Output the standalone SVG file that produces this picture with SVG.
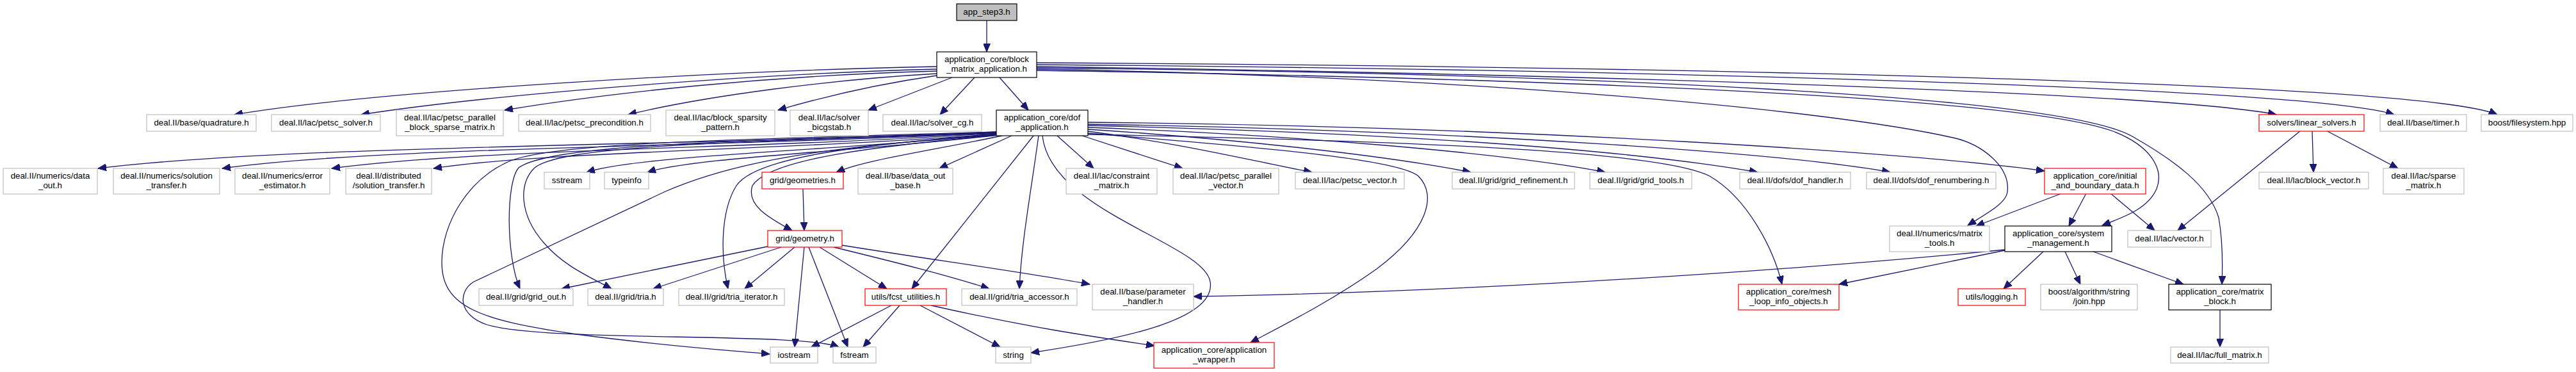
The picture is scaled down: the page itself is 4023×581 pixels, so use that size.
<svg xmlns="http://www.w3.org/2000/svg" width="4023" height="581" viewBox="0 0 4023 581">
<style>
.n rect{fill:#fff;stroke:#bfbfbf;stroke-width:1.2}
.n.red rect{stroke:#ff0000}
.n.blk rect{stroke:#000}
.n.root rect{fill:#bfbfbf;stroke:#000}
.n text{font-family:"Liberation Sans",Arial,sans-serif;font-size:13.33px;fill:#000;text-anchor:middle}
#edges path{fill:none;stroke:#191970;stroke-width:1.3;marker-end:url(#ah)}
</style>
<defs>
<marker id="ah" markerUnits="userSpaceOnUse" markerWidth="14" markerHeight="11" refX="13" refY="5.5" orient="auto">
<path d="M0,0 L13,5.5 L0,11 z" fill="#191970" stroke="#191970" stroke-width="1"/>
</marker>
</defs>
<rect width="4023" height="581" fill="#fff"/>
<g id="edges">
<path d="M1541,32 L1541,81"/>
<path d="M1463,104 C1150,110 600,140 366,179"/>
<path d="M1463,108 C1150,116 750,150 564,179"/>
<path d="M1463,111 C1200,118 950,145 788,172"/>
<path d="M1463,115 C1300,124 1100,150 981,179"/>
<path d="M1463,118 C1380,130 1290,150 1215,172"/>
<path d="M1487,121 L1356,172"/>
<path d="M1522,121 L1468,179"/>
<path d="M1561,121 L1606,172"/>
<path d="M1619,104 C2600,118 3400,148 3555,179"/>
<path d="M1619,101 C2500,108 3600,135 3739,179"/>
<path d="M1619,98 C2600,104 3780,128 3900,179"/>
<path d="M1619,108 C2300,120 2850,170 3050,215 C3095,225 3140,260 3135,300 C3133,318 3100,335 3073,352"/>
<path d="M1619,110 C2400,122 3150,150 3300,205 C3360,228 3380,265 3368,295 C3355,325 3320,338 3283,352"/>
<path d="M1619,106 C2500,115 3220,150 3330,213 C3395,250 3450,290 3465,340 C3472,380 3471,420 3470,444"/>
<path d="M1556,206 C1100,228 450,226 153,263"/>
<path d="M1556,207 C1150,230 600,228 347,263"/>
<path d="M1556,208 C1200,232 750,232 518,263"/>
<path d="M1556,209 C1250,234 850,236 677,263"/>
<path d="M1556,210 C1300,236 1000,242 916,269"/>
<path d="M1558,211 C1350,236 1080,246 1011,269"/>
<path d="M1565,212 C1450,236 1350,250 1306,269"/>
<path d="M1580,212 L1467,263"/>
<path d="M1651,212 L1708,263"/>
<path d="M1690,212 L1847,263"/>
<path d="M1699,205 C1850,225 1950,250 2049,269"/>
<path d="M1699,202 C1900,215 2150,240 2297,269"/>
<path d="M1699,199 C2000,210 2350,238 2507,269"/>
<path d="M1699,196 C2200,208 2550,235 2745,269"/>
<path d="M1699,194 C2300,204 2800,240 2952,269"/>
<path d="M1699,191 C2400,198 3000,240 3193,267"/>
<path d="M1699,208 C1900,225 2180,245 2215,275 C2245,305 2230,360 2150,420 C2080,470 2000,510 1953,535"/>
<path d="M1699,210 C2300,222 2600,240 2670,275 C2730,310 2770,390 2783,444"/>
<path d="M1614,212 L1424,451"/>
<path d="M1622,212 C1610,300 1595,380 1592,451"/>
<path d="M1628,212 C1640,330 1880,380 1890,440 C1900,500 1750,530 1610,551"/>
<path d="M1556,207 C1150,220 860,225 810,262 C790,285 790,400 812,451"/>
<path d="M1556,208 C1150,222 880,226 835,262 C810,285 810,335 850,380 C880,415 920,432 955,451"/>
<path d="M1556,206 C1150,218 880,222 800,250 C730,278 690,350 690,410 C690,480 750,500 900,522 C1050,542 1150,548 1202,553"/>
<path d="M1558,211 C1300,228 1150,250 1037,300 L740,440 C715,455 715,492 760,507 C850,535 1250,518 1310,542"/>
<path d="M1556,210 C1350,225 1180,245 1150,290 C1125,330 1125,400 1137,451"/>
<path d="M1558,211 C1350,230 1200,250 1175,290 C1165,320 1200,340 1237,360"/>
<path d="M1254,295 L1256,360"/>
<path d="M1199,385 L877,451"/>
<path d="M1220,386 L1020,451"/>
<path d="M1241,386 L1163,451"/>
<path d="M1256,386 L1241,542"/>
<path d="M1263,386 L1324,542"/>
<path d="M1280,386 L1385,451"/>
<path d="M1302,386 C1400,410 1480,430 1545,451"/>
<path d="M1315,383 C1450,405 1600,425 1702,444"/>
<path d="M1392,477 L1267,542"/>
<path d="M1405,477 L1348,542"/>
<path d="M1437,477 L1562,542"/>
<path d="M1454,477 C1600,510 1700,525 1803,540"/>
<path d="M3220,302 L3086,353"/>
<path d="M3258,302 L3231,353"/>
<path d="M3296,302 L3365,360"/>
<path d="M3131,391 L2872,444"/>
<path d="M3131,390 C2700,432 2200,458 1864,463"/>
<path d="M3191,393 L3129,451"/>
<path d="M3225,393 L3249,444"/>
<path d="M3269,393 L3410,444"/>
<path d="M3593,204 L3401,360"/>
<path d="M3611,204 L3613,269"/>
<path d="M3633,204 L3745,263"/>
<path d="M3467,484 L3467,542"/>
</g>
<g id="n0" class="n root"><rect x="1494" y="6" width="94" height="26"/><text x="1541" y="23">app_step3.h</text></g>
<g id="n1" class="n blk"><rect x="1463" y="81" width="156" height="40"/><text x="1541" y="97">application_core/block</text><text x="1541" y="112">_matrix_application.h</text></g>
<g id="n2" class="n"><rect x="229" y="179" width="171" height="26"/><text x="314.5" y="196">deal.II/base/quadrature.h</text></g>
<g id="n3" class="n"><rect x="424" y="179" width="170" height="26"/><text x="509" y="196">deal.II/lac/petsc_solver.h</text></g>
<g id="n4" class="n"><rect x="619" y="172" width="167" height="40"/><text x="702.5" y="188">deal.II/lac/petsc_parallel</text><text x="702.5" y="203">_block_sparse_matrix.h</text></g>
<g id="n5" class="n"><rect x="810" y="179" width="206" height="26"/><text x="913" y="196">deal.II/lac/petsc_precondition.h</text></g>
<g id="n6" class="n"><rect x="1040" y="172" width="170" height="40"/><text x="1125" y="188">deal.II/lac/block_sparsity</text><text x="1125" y="203">_pattern.h</text></g>
<g id="n7" class="n"><rect x="1234" y="172" width="122" height="40"/><text x="1295" y="188">deal.II/lac/solver</text><text x="1295" y="203">_bicgstab.h</text></g>
<g id="n8" class="n"><rect x="1379" y="179" width="154" height="26"/><text x="1456" y="196">deal.II/lac/solver_cg.h</text></g>
<g id="n9" class="n blk"><rect x="1556" y="172" width="143" height="40"/><text x="1627.5" y="188">application_core/dof</text><text x="1627.5" y="203">_application.h</text></g>
<g id="n10" class="n red"><rect x="3528" y="179" width="164" height="26"/><text x="3610" y="196">solvers/linear_solvers.h</text></g>
<g id="n11" class="n"><rect x="3717" y="179" width="135" height="26"/><text x="3784.5" y="196">deal.II/base/timer.h</text></g>
<g id="n12" class="n"><rect x="3875" y="179" width="143" height="26"/><text x="3946.5" y="196">boost/filesystem.hpp</text></g>
<g id="n13" class="n"><rect x="5" y="263" width="147" height="40"/><text x="78.5" y="279">deal.II/numerics/data</text><text x="78.5" y="294">_out.h</text></g>
<g id="n14" class="n"><rect x="177" y="263" width="166" height="40"/><text x="260" y="279">deal.II/numerics/solution</text><text x="260" y="294">_transfer.h</text></g>
<g id="n15" class="n"><rect x="367" y="263" width="148" height="40"/><text x="441" y="279">deal.II/numerics/error</text><text x="441" y="294">_estimator.h</text></g>
<g id="n16" class="n"><rect x="540" y="263" width="134" height="40"/><text x="607" y="279">deal.II/distributed</text><text x="607" y="294">/solution_transfer.h</text></g>
<g id="n17" class="n"><rect x="850" y="269" width="71" height="26"/><text x="885.5" y="286">sstream</text></g>
<g id="n18" class="n"><rect x="944" y="269" width="69" height="26"/><text x="978.5" y="286">typeinfo</text></g>
<g id="n19" class="n red"><rect x="1190" y="269" width="127" height="26"/><text x="1253.5" y="286">grid/geometries.h</text></g>
<g id="n20" class="n"><rect x="1340" y="263" width="148" height="40"/><text x="1414" y="279">deal.II/base/data_out</text><text x="1414" y="294">_base.h</text></g>
<g id="n21" class="n"><rect x="1665" y="263" width="142" height="40"/><text x="1736" y="279">deal.II/lac/constraint</text><text x="1736" y="294">_matrix.h</text></g>
<g id="n22" class="n"><rect x="1832" y="263" width="165" height="40"/><text x="1914.5" y="279">deal.II/lac/petsc_parallel</text><text x="1914.5" y="294">_vector.h</text></g>
<g id="n23" class="n"><rect x="2023" y="269" width="170" height="26"/><text x="2108" y="286">deal.II/lac/petsc_vector.h</text></g>
<g id="n24" class="n"><rect x="2268" y="269" width="191" height="26"/><text x="2363.5" y="286">deal.II/grid/grid_refinement.h</text></g>
<g id="n25" class="n"><rect x="2483" y="269" width="159" height="26"/><text x="2562.5" y="286">deal.II/grid/grid_tools.h</text></g>
<g id="n26" class="n"><rect x="2717" y="269" width="173" height="26"/><text x="2803.5" y="286">deal.II/dofs/dof_handler.h</text></g>
<g id="n27" class="n"><rect x="2915" y="269" width="202" height="26"/><text x="3016" y="286">deal.II/dofs/dof_renumbering.h</text></g>
<g id="n28" class="n red"><rect x="3193" y="263" width="158" height="40"/><text x="3272" y="279">application_core/initial</text><text x="3272" y="294">_and_boundary_data.h</text></g>
<g id="n29" class="n"><rect x="3528" y="269" width="171" height="26"/><text x="3613.5" y="286">deal.II/lac/block_vector.h</text></g>
<g id="n30" class="n"><rect x="3722" y="263" width="126" height="40"/><text x="3785" y="279">deal.II/lac/sparse</text><text x="3785" y="294">_matrix.h</text></g>
<g id="n31" class="n red"><rect x="1199" y="360" width="116" height="26"/><text x="1257" y="377">grid/geometry.h</text></g>
<g id="n32" class="n"><rect x="2951" y="353" width="156" height="40"/><text x="3029" y="369">deal.II/numerics/matrix</text><text x="3029" y="384">_tools.h</text></g>
<g id="n33" class="n blk"><rect x="3131" y="353" width="167" height="40"/><text x="3214.5" y="369">application_core/system</text><text x="3214.5" y="384">_management.h</text></g>
<g id="n34" class="n"><rect x="3323" y="360" width="130" height="26"/><text x="3388" y="377">deal.II/lac/vector.h</text></g>
<g id="n35" class="n"><rect x="748" y="451" width="147" height="26"/><text x="821.5" y="468">deal.II/grid/grid_out.h</text></g>
<g id="n36" class="n"><rect x="918" y="451" width="118" height="26"/><text x="977" y="468">deal.II/grid/tria.h</text></g>
<g id="n37" class="n"><rect x="1060" y="451" width="165" height="26"/><text x="1142.5" y="468">deal.II/grid/tria_iterator.h</text></g>
<g id="n38" class="n red"><rect x="1351" y="451" width="127" height="26"/><text x="1414.5" y="468">utils/fcst_utilities.h</text></g>
<g id="n39" class="n"><rect x="1502" y="451" width="180" height="26"/><text x="1592" y="468">deal.II/grid/tria_accessor.h</text></g>
<g id="n40" class="n"><rect x="1706" y="444" width="158" height="40"/><text x="1785" y="460">deal.II/base/parameter</text><text x="1785" y="475">_handler.h</text></g>
<g id="n41" class="n red"><rect x="2715" y="444" width="157" height="40"/><text x="2793.5" y="460">application_core/mesh</text><text x="2793.5" y="475">_loop_info_objects.h</text></g>
<g id="n42" class="n red"><rect x="3058" y="451" width="105" height="26"/><text x="3110.5" y="468">utils/logging.h</text></g>
<g id="n43" class="n"><rect x="3187" y="444" width="151" height="40"/><text x="3262.5" y="460">boost/algorithm/string</text><text x="3262.5" y="475">/join.hpp</text></g>
<g id="n44" class="n blk"><rect x="3387" y="444" width="160" height="40"/><text x="3467" y="460">application_core/matrix</text><text x="3467" y="475">_block.h</text></g>
<g id="n45" class="n"><rect x="1203" y="542" width="74" height="25"/><text x="1240" y="559">iostream</text></g>
<g id="n46" class="n"><rect x="1301" y="542" width="67" height="25"/><text x="1334.5" y="559">fstream</text></g>
<g id="n47" class="n"><rect x="1555" y="542" width="55" height="25"/><text x="1582.5" y="559">string</text></g>
<g id="n48" class="n red"><rect x="1802" y="535" width="188" height="40"/><text x="1896" y="551">application_core/application</text><text x="1896" y="566">_wrapper.h</text></g>
<g id="n49" class="n"><rect x="3390" y="542" width="153" height="25"/><text x="3466.5" y="559">deal.II/lac/full_matrix.h</text></g>
</svg>
